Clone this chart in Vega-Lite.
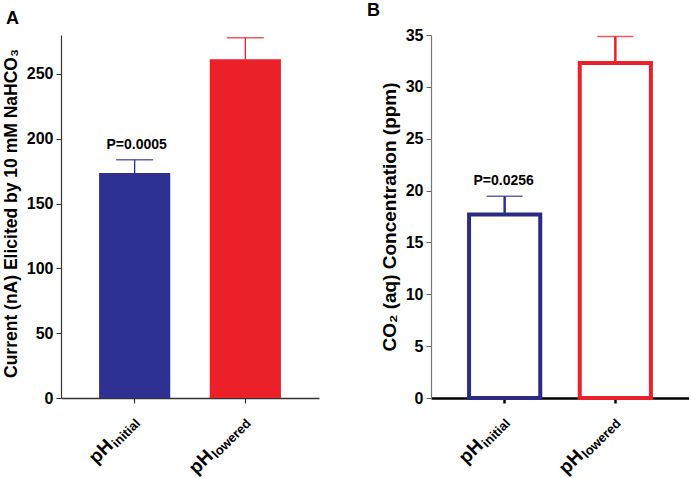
{
  "$schema": "https://vega.github.io/schema/vega-lite/v6.json",
  "background": "white",
  "padding": {"left": 1, "top": 2, "right": 0, "bottom": 0},
  "bounds": "flush",
  "spacing": 112,
  "config": {
    "font": "Liberation Sans",
    "view": {"stroke": null},
    "axis": {"labelFont": "Liberation Sans", "titleFont": "Liberation Sans", "grid": false},
    "title": {"font": "Liberation Sans", "fontWeight": "bold", "fontSize": 18, "anchor": "start", "frame": "group", "baseline": "alphabetic"}
  },
  "datasets": {
    "panelA": [
      {"group": "initial", "value": 173.5, "upper": 183.7, "p": "P=0.0005", "sub": "initial"},
      {"group": "lowered", "value": 261.2, "upper": 277.8, "p": "", "sub": "lowered"}
    ],
    "panelB": [
      {"group": "initial", "value": 17.7, "upper": 19.45, "p": "P=0.0256", "sub": "initial"},
      {"group": "lowered", "value": 32.3, "upper": 34.85, "p": "", "sub": "lowered"}
    ]
  },
  "hconcat": [
    {
      "title": {"text": "A", "dx": -55, "offset": 7},
      "width": 258,
      "height": 363,
      "data": {"name": "panelA"},
      "encoding": {
        "x": {
          "field": "group", "type": "nominal", "sort": ["initial", "lowered"],
          "scale": {"paddingInner": 0.357, "paddingOuter": 0.344},
          "axis": {"labels": false, "title": null, "ticks": true, "tickSize": 5, "tickColor": "#333", "tickWidth": 1.2, "domainColor": "#333", "domainWidth": 1.5}
        }
      },
      "layer": [
        {
          "mark": {"type": "bar"},
          "encoding": {
            "y": {
              "field": "value", "type": "quantitative",
              "scale": {"domain": [0, 280], "nice": false},
              "axis": {
                "values": [0, 50, 100, 150, 200, 250],
                "title": "Current (nA) Elicited by 10 mM NaHCO₃",
                "titleFontSize": 17.5, "titleFontWeight": "bold", "titleColor": "black",
                "titleAngle": 270, "titleAlign": "center", "titleBaseline": "alphabetic",
                "titleX": -45, "titleY": 178,
                "labelFontSize": 16, "labelFontWeight": "bold", "labelColor": "black", "labelPadding": 3,
                "tickSize": 5, "tickColor": "#333", "domainColor": "#333", "domainWidth": 1.2
              }
            },
            "color": {"field": "group", "type": "nominal", "scale": {"domain": ["initial", "lowered"], "range": ["#2e3192", "#ec2029"]}, "legend": null}
          }
        },
        {
          "mark": {"type": "rule", "strokeWidth": 1.3},
          "encoding": {
            "y": {"field": "value", "type": "quantitative"},
            "y2": {"field": "upper"},
            "color": {"field": "group", "type": "nominal", "legend": null}
          }
        },
        {
          "mark": {"type": "tick", "orient": "horizontal", "size": 37, "thickness": 1.5, "opacity": 0.75},
          "encoding": {
            "y": {"field": "upper", "type": "quantitative"},
            "color": {"field": "group", "type": "nominal", "legend": null}
          }
        },
        {
          "transform": [{"filter": "datum.p !== ''"}],
          "mark": {"type": "text", "fontSize": 14, "fontWeight": "bold", "color": "black", "dy": -11, "baseline": "alphabetic", "dx": 2},
          "encoding": {
            "y": {"field": "upper", "type": "quantitative"},
            "text": {"field": "p"}
          }
        },
        {
          "mark": {"type": "text", "text": "pH", "fontSize": 19, "fontWeight": "bold", "color": "black", "align": "right", "baseline": "alphabetic", "dy": 20, "dx": {"expr": "datum.group === 'initial' ? -49 : -64"}},
          "encoding": {"y": {"datum": 0}, "angle": {"value": 315}}
        },
        {
          "mark": {"type": "text", "fontSize": 13, "fontWeight": "bold", "color": "black", "align": "right", "baseline": "alphabetic", "dy": 23, "dx": -14},
          "encoding": {"y": {"datum": 0}, "text": {"field": "sub"}, "angle": {"value": 315}}
        }
      ]
    },
    {
      "title": {"text": "B", "dx": -64, "offset": 7},
      "width": 258,
      "height": 363,
      "data": {"name": "panelB"},
      "encoding": {
        "x": {
          "field": "group", "type": "nominal", "sort": ["initial", "lowered"],
          "scale": {"paddingInner": 0.357, "paddingOuter": 0.344},
          "axis": {"labels": false, "title": null, "ticks": true, "tickSize": 5, "tickColor": "black", "tickWidth": 2.5, "domainColor": "black", "domainWidth": 2.5}
        }
      },
      "layer": [
        {
          "mark": {"type": "bar", "fill": "white", "strokeWidth": 4},
          "encoding": {
            "y": {
              "field": "value", "type": "quantitative",
              "scale": {"domain": [0, 35], "nice": false},
              "axis": {
                "values": [0, 5, 10, 15, 20, 25, 30, 35],
                "title": "CO₂ (aq) Concentration (ppm)",
                "titleFontSize": 19, "titleFontWeight": "bold", "titleColor": "black",
                "titleAngle": 270, "titleAlign": "center", "titleBaseline": "alphabetic",
                "titleX": -36, "titleY": 181.5,
                "labelFontSize": 16, "labelFontWeight": "bold", "labelColor": "black", "labelPadding": 3,
                "tickSize": 5, "tickColor": "#666", "domainColor": "#777", "domainWidth": 1.2
              }
            },
            "stroke": {"field": "group", "type": "nominal", "scale": {"domain": ["initial", "lowered"], "range": ["#2b2a85", "#ea2129"]}, "legend": null}
          }
        },
        {
          "mark": {"type": "rule", "strokeWidth": 2.5},
          "encoding": {
            "y": {"field": "value", "type": "quantitative"},
            "y2": {"field": "upper"},
            "color": {"field": "group", "type": "nominal", "scale": {"domain": ["initial", "lowered"], "range": ["#2b2a85", "#ea2129"]}, "legend": null}
          }
        },
        {
          "mark": {"type": "tick", "orient": "horizontal", "size": 36, "thickness": 1.5, "opacity": 0.75},
          "encoding": {
            "y": {"field": "upper", "type": "quantitative"},
            "color": {"field": "group", "type": "nominal", "legend": null}
          }
        },
        {
          "transform": [{"filter": "datum.p !== ''"}],
          "mark": {"type": "text", "fontSize": 14, "fontWeight": "bold", "color": "black", "dy": -11, "baseline": "alphabetic", "dx": -1},
          "encoding": {
            "y": {"field": "upper", "type": "quantitative"},
            "text": {"field": "p"}
          }
        },
        {
          "mark": {"type": "text", "text": "pH", "fontSize": 19, "fontWeight": "bold", "color": "black", "align": "right", "baseline": "alphabetic", "dy": 20, "dx": {"expr": "datum.group === 'initial' ? -49 : -64"}},
          "encoding": {"y": {"datum": 0}, "angle": {"value": 315}}
        },
        {
          "mark": {"type": "text", "fontSize": 13, "fontWeight": "bold", "color": "black", "align": "right", "baseline": "alphabetic", "dy": 23, "dx": -14},
          "encoding": {"y": {"datum": 0}, "text": {"field": "sub"}, "angle": {"value": 315}}
        }
      ]
    }
  ]
}
